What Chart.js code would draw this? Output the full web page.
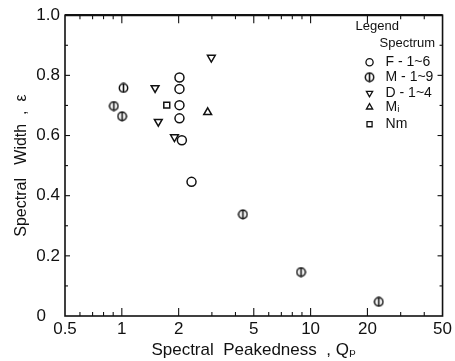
<!DOCTYPE html>
<html>
<head>
<meta charset="utf-8">
<script src="https://cdn.jsdelivr.net/npm/chart.js@4.4.1/dist/chart.umd.min.js"></script>
<style>
  html, body { margin: 0; padding: 0; background: #fff; }
  #wrap { width: 455px; height: 361px; }
</style>
</head>
<body>
<div id="wrap"><canvas id="chart" width="455" height="361"></canvas></div>
<script>
// ---------------------------
// Data
// ---------------------------
const seriesNames = ["F - 1~6", "M - 1~9", "D - 1~4", "M\u1d62", "Nm"];

const qpF  = [2.02, 2.02, 2.02, 2.02, 2.08, 2.34];
const epsF = [0.793, 0.755, 0.701, 0.657, 0.584, 0.446];

const qpM  = [1.02, 0.907, 1.003, 4.38, 8.90, 22.98];
const epsM = [0.758, 0.698, 0.664, 0.338, 0.146, 0.047];

const qpD  = [1.50, 2.98, 1.56, 1.90];
const epsD = [0.758, 0.859, 0.646, 0.595];

const qpMi  = [2.85];
const epsMi = [0.677];

const qpNm  = [1.73];
const epsNm = [0.701];

const xTickValues = [0.5, 1, 2, 5, 10, 20, 50];
const xMinorValues = [0.6, 0.7, 0.8, 0.9, 3, 4, 6, 7, 8, 9, 30, 40];
const yTickValues = [0, 0.2, 0.4, 0.6, 0.8, 1.0];
const yMinorValues = [0.1, 0.3, 0.5, 0.7, 0.9];

const INK = "#111";
const FONT = "'Liberation Sans', 'DejaVu Sans', sans-serif";

// circle with a vertical bar through it (M series)
function makeBarCircle() {
  const c = document.createElement("canvas");
  c.width = 11; c.height = 11;
  const g = c.getContext("2d");
  g.strokeStyle = INK;
  g.lineWidth = 1.5;
  g.beginPath(); g.arc(5.5, 5.5, 4.2, 0, Math.PI * 2); g.stroke();
  g.lineWidth = 1.6;
  g.beginPath(); g.moveTo(5.5, 0.8); g.lineTo(5.5, 10.2); g.stroke();
  return c;
}
const barCircle = makeBarCircle();

function pts(xs, ys) { return xs.map((v, i) => ({ x: v, y: ys[i] })); }

function series(label, xs, ys, style, extra) {
  return Object.assign({
    label,
    data: pts(xs, ys),
    pointStyle: style,
    pointRadius: 4.5,
    borderColor: INK,
    backgroundColor: "rgba(0,0,0,0)",
    borderWidth: 1.5,
    showLine: false
  }, extra || {});
}

// ---------------------------
// Frame, inward ticks, legend
// ---------------------------
function seg(ctx, x1, y1, x2, y2) {
  ctx.beginPath(); ctx.moveTo(x1, y1); ctx.lineTo(x2, y2); ctx.stroke();
}

const frameTicks = {
  id: "frameTicks",
  afterDatasetsDraw(chart) {
    const { ctx, chartArea: a, scales: { x, y } } = chart;
    ctx.save();
    ctx.strokeStyle = INK;
    ctx.lineWidth = 1.6;
    ctx.strokeRect(a.left, a.top, a.right - a.left, a.bottom - a.top);
    ctx.lineWidth = 2.2;
    seg(ctx, a.left, a.top, a.right, a.top);

    ctx.lineWidth = 1.1;
    xTickValues.slice(1, -1).forEach(v => {
      const px = x.getPixelForValue(v);
      seg(ctx, px, a.bottom, px, a.bottom - 8);
      seg(ctx, px, a.top, px, a.top + 8);
    });
    xMinorValues.forEach(v => {
      const px = x.getPixelForValue(v);
      seg(ctx, px, a.bottom, px, a.bottom - 4);
      seg(ctx, px, a.top, px, a.top + 4);
    });
    yTickValues.slice(1, -1).forEach(v => {
      const py = y.getPixelForValue(v);
      seg(ctx, a.left, py, a.left + 5, py);
      seg(ctx, a.right, py, a.right - 5, py);
    });
    yMinorValues.forEach(v => {
      const py = y.getPixelForValue(v);
      seg(ctx, a.left, py, a.left + 3, py);
      seg(ctx, a.right, py, a.right - 3, py);
    });
    ctx.restore();
  }
};

const legendBox = {
  id: "legendBox",
  afterDraw(chart) {
    const { ctx, chartArea: a } = chart;
    ctx.save();
    ctx.fillStyle = INK;
    ctx.textBaseline = "middle";
    ctx.textAlign = "left";
    ctx.font = "13px " + FONT;
    ctx.fillText("Legend", a.right - 87, a.top + 11);
    ctx.fillText("Spectrum", a.right - 63, a.top + 28);

    ctx.font = "14px " + FONT;
    const rows = [47, 62, 78, 92, 109];
    chart.data.datasets.forEach((ds, i) => {
      const yy = a.top + rows[i];
      ctx.strokeStyle = INK;
      ctx.fillStyle = "rgba(0,0,0,0)";
      ctx.lineWidth = 1.3;
      Chart.helpers.drawPoint(ctx, {
        pointStyle: ds.pointStyle,
        rotation: ds.rotation || 0,
        radius: 3.6,
        borderWidth: 1.3
      }, a.right - 73, yy);
      ctx.fillStyle = INK;
      ctx.fillText(ds.label, a.right - 57, yy);
    });
    ctx.restore();
  }
};

// ---------------------------
// Chart
// ---------------------------
new Chart(document.getElementById("chart"), {
  type: "scatter",
  data: {
    datasets: [
      series(seriesNames[0], qpF, epsF, "circle"),
      series(seriesNames[1], qpM, epsM, barCircle),
      series(seriesNames[2], qpD, epsD, "triangle", { rotation: 180 }),
      series(seriesNames[3], qpMi, epsMi, "triangle"),
      series(seriesNames[4], qpNm, epsNm, "rect", { pointRadius: 4.2 })
    ]
  },
  options: {
    responsive: false,
    animation: false,
    layout: { padding: { top: 15, right: 11, left: 0, bottom: 0 } },
    plugins: { legend: { display: false }, tooltip: { enabled: false } },
    scales: {
      x: {
        type: "logarithmic",
        min: 0.5,
        max: 50,
        afterBuildTicks: s => { s.ticks = xTickValues.map(v => ({ value: v })); },
        afterFit: s => { s.height = 45; },
        grid: { display: false, drawTicks: false },
        border: { display: false },
        ticks: {
          color: INK,
          font: { family: FONT, size: 17 },
          padding: 3,
          maxRotation: 0,
          autoSkip: false,
          callback: v => String(v)
        },
        title: {
          display: true,
          text: "Spectral  Peakedness  , Q\u209a",
          color: INK,
          font: { family: FONT, size: 17 },
          padding: { top: 1, bottom: 0 }
        }
      },
      y: {
        min: 0,
        max: 1,
        afterBuildTicks: s => { s.ticks = yTickValues.map(v => ({ value: v })); },
        afterFit: s => { s.width = 65; },
        grid: { display: false, drawTicks: false },
        border: { display: false },
        ticks: {
          color: INK,
          font: { family: FONT, size: 17 },
          padding: 5,
          callback: v => v === 0 ? "0   " : v.toFixed(1)
        },
        title: {
          display: true,
          text: "Spectral   Width  ,  \u03b5",
          color: INK,
          font: { family: FONT, size: 16 },
          padding: { top: 12, bottom: 0 }
        }
      }
    }
  },
  plugins: [frameTicks, legendBox]
});
</script>
</body>
</html>
